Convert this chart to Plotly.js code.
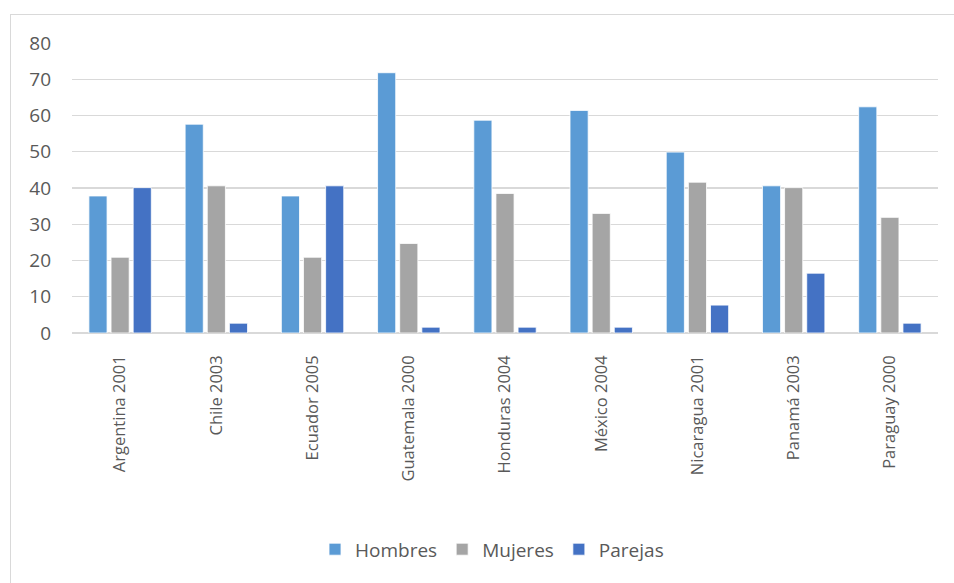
<!DOCTYPE html>
<html><head><meta charset="utf-8">
<script src="https://cdn.plot.ly/plotly-3.0.1.min.js"></script>
<style>
html,body{margin:0;padding:0;background:#fff;}
#wrap{position:relative;width:954px;height:583px;}
#chart{width:954px;height:583px;}
#frame{position:absolute;left:10px;top:14px;width:950px;height:575px;border:1px solid #d9d9d9;pointer-events:none;}
</style></head>
<body>
<div id="wrap"><div id="chart"></div><div id="frame"></div></div>
<script>
const categories = ["Argentina 2001","Chile 2003","Ecuador 2005","Guatemala 2000","Honduras 2004","México 2004","Nicaragua 2001","Panamá 2003","Paraguay 2000"];
const hombres = [37.8, 57.6, 37.8, 71.8, 58.7, 61.4, 49.9, 40.6, 62.4];
const mujeres = [20.9, 40.6, 20.9, 24.7, 38.5, 33.0, 41.6, 40.1, 31.9];
const parejas = [40.1, 2.7, 40.6, 1.6, 1.6, 1.6, 7.7, 16.5, 2.7];
const yTicks = [0,10,20,30,40,50,60,70,80];

const font = {family: "Open Sans, Noto Sans, sans-serif", color: "#595959"};
function tr(name, vals, color){
  return {type:"bar", name:name, x:categories, y:vals,
    marker:{color:color, line:{color:"#ffffff", width:0.8}}, hoverinfo:"skip"};
}
const data = [tr("Hombres", hombres, "#5B9BD5"), tr("Mujeres", mujeres, "#A5A5A5"), tr("Parejas", parejas, "#4472C4")];
const layout = {
  width:954, height:583,
  margin:{l:72, r:16, t:42.7, b:249.7},
  paper_bgcolor:"#fff", plot_bgcolor:"#fff",
  barmode:"group", bargap:0.31, bargroupgap:0.18,
  font:Object.assign({size:16}, font),
  showlegend:true,
  legend:{orientation:"h", x:0.485, xanchor:"center", y:-0.746, yanchor:"middle",
    font:Object.assign({size:19}, font), itemwidth:30, tracegroupgap:0, traceorder:"normal"},
  xaxis:{type:"category", tickangle:-90, showgrid:false, zeroline:false, showline:false,
    ticks:"", tickfont:Object.assign({size:16.5}, font), ticklabelstandoff:18},
  yaxis:{range:[0,80], tickvals:yTicks, showgrid:true, gridcolor:"#d9d9d9", gridwidth:1.3,
    zeroline:true, zerolinecolor:"#d9d9d9", zerolinewidth:1.3, showline:false, ticks:"",
    tickfont:Object.assign({size:19}, font), ticklabelstandoff:20, fixedrange:true}
};
Plotly.newPlot("chart", data, layout, {displayModeBar:false, staticPlot:true});
</script>
</body></html>
